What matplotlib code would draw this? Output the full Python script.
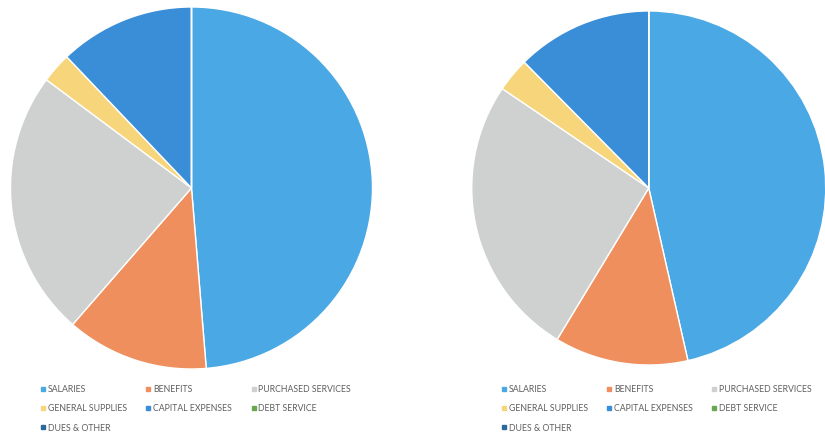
import matplotlib.pyplot as plt
from matplotlib.lines import Line2D

categories = ["SALARIES", "BENEFITS", "PURCHASED SERVICES", "GENERAL SUPPLIES",
              "CAPITAL EXPENSES", "DEBT SERVICE", "DUES & OTHER"]
left_values = [48.7, 12.7, 23.8, 2.7, 12.1, 0.0, 0.0]
right_values = [46.4, 12.2, 25.8, 3.1, 12.4, 0.0, 0.0]
colors = ["#4aa8e4", "#ef8f5e", "#cfd1d1", "#f7d57a", "#3a8ed8", "#6aa84f", "#2c6a9a"]

fig = plt.figure(figsize=(8.25, 4.34), dpi=100)
fig.patch.set_facecolor("white")

# pie axes: [left, bottom, width, height] in figure fractions
ax_l = fig.add_axes([0.0127, 0.1498, 0.4388, 0.8341])
ax_r = fig.add_axes([0.5718, 0.1590, 0.4291, 0.8157])

for ax, vals in [(ax_l, left_values), (ax_r, right_values)]:
    ax.pie(vals, colors=colors, startangle=90, counterclock=False,
           wedgeprops=dict(edgecolor="white", linewidth=1.0))
    ax.set_xlim(-1, 1)
    ax.set_ylim(-1, 1)
    ax.set_aspect("equal")
    ax.axis("off")

# legend in row-major order (matplotlib fills columns first)
order = [0, 3, 6, 1, 4, 2, 5]
handles = [Line2D([], [], marker="s", linestyle="none", markersize=3.2,
                  markerfacecolor=colors[i], markeredgecolor=colors[i]) for i in order]
labels = [categories[i] for i in order]

for x0 in [0.0495, 0.608]:
    leg = fig.legend(handles, labels, ncol=3, loc="upper left",
                     bbox_to_anchor=(x0, 0.112), frameon=False,
                     prop={"family": "Lato", "size": 6.3},
                     handlelength=0.5, handletextpad=0.3,
                     columnspacing=2.2, labelspacing=1.15,
                     borderaxespad=0, borderpad=0)
    for t in leg.get_texts():
        t.set_color("#5f5f5f")

fig.savefig("out.png", dpi=100, facecolor="white")
